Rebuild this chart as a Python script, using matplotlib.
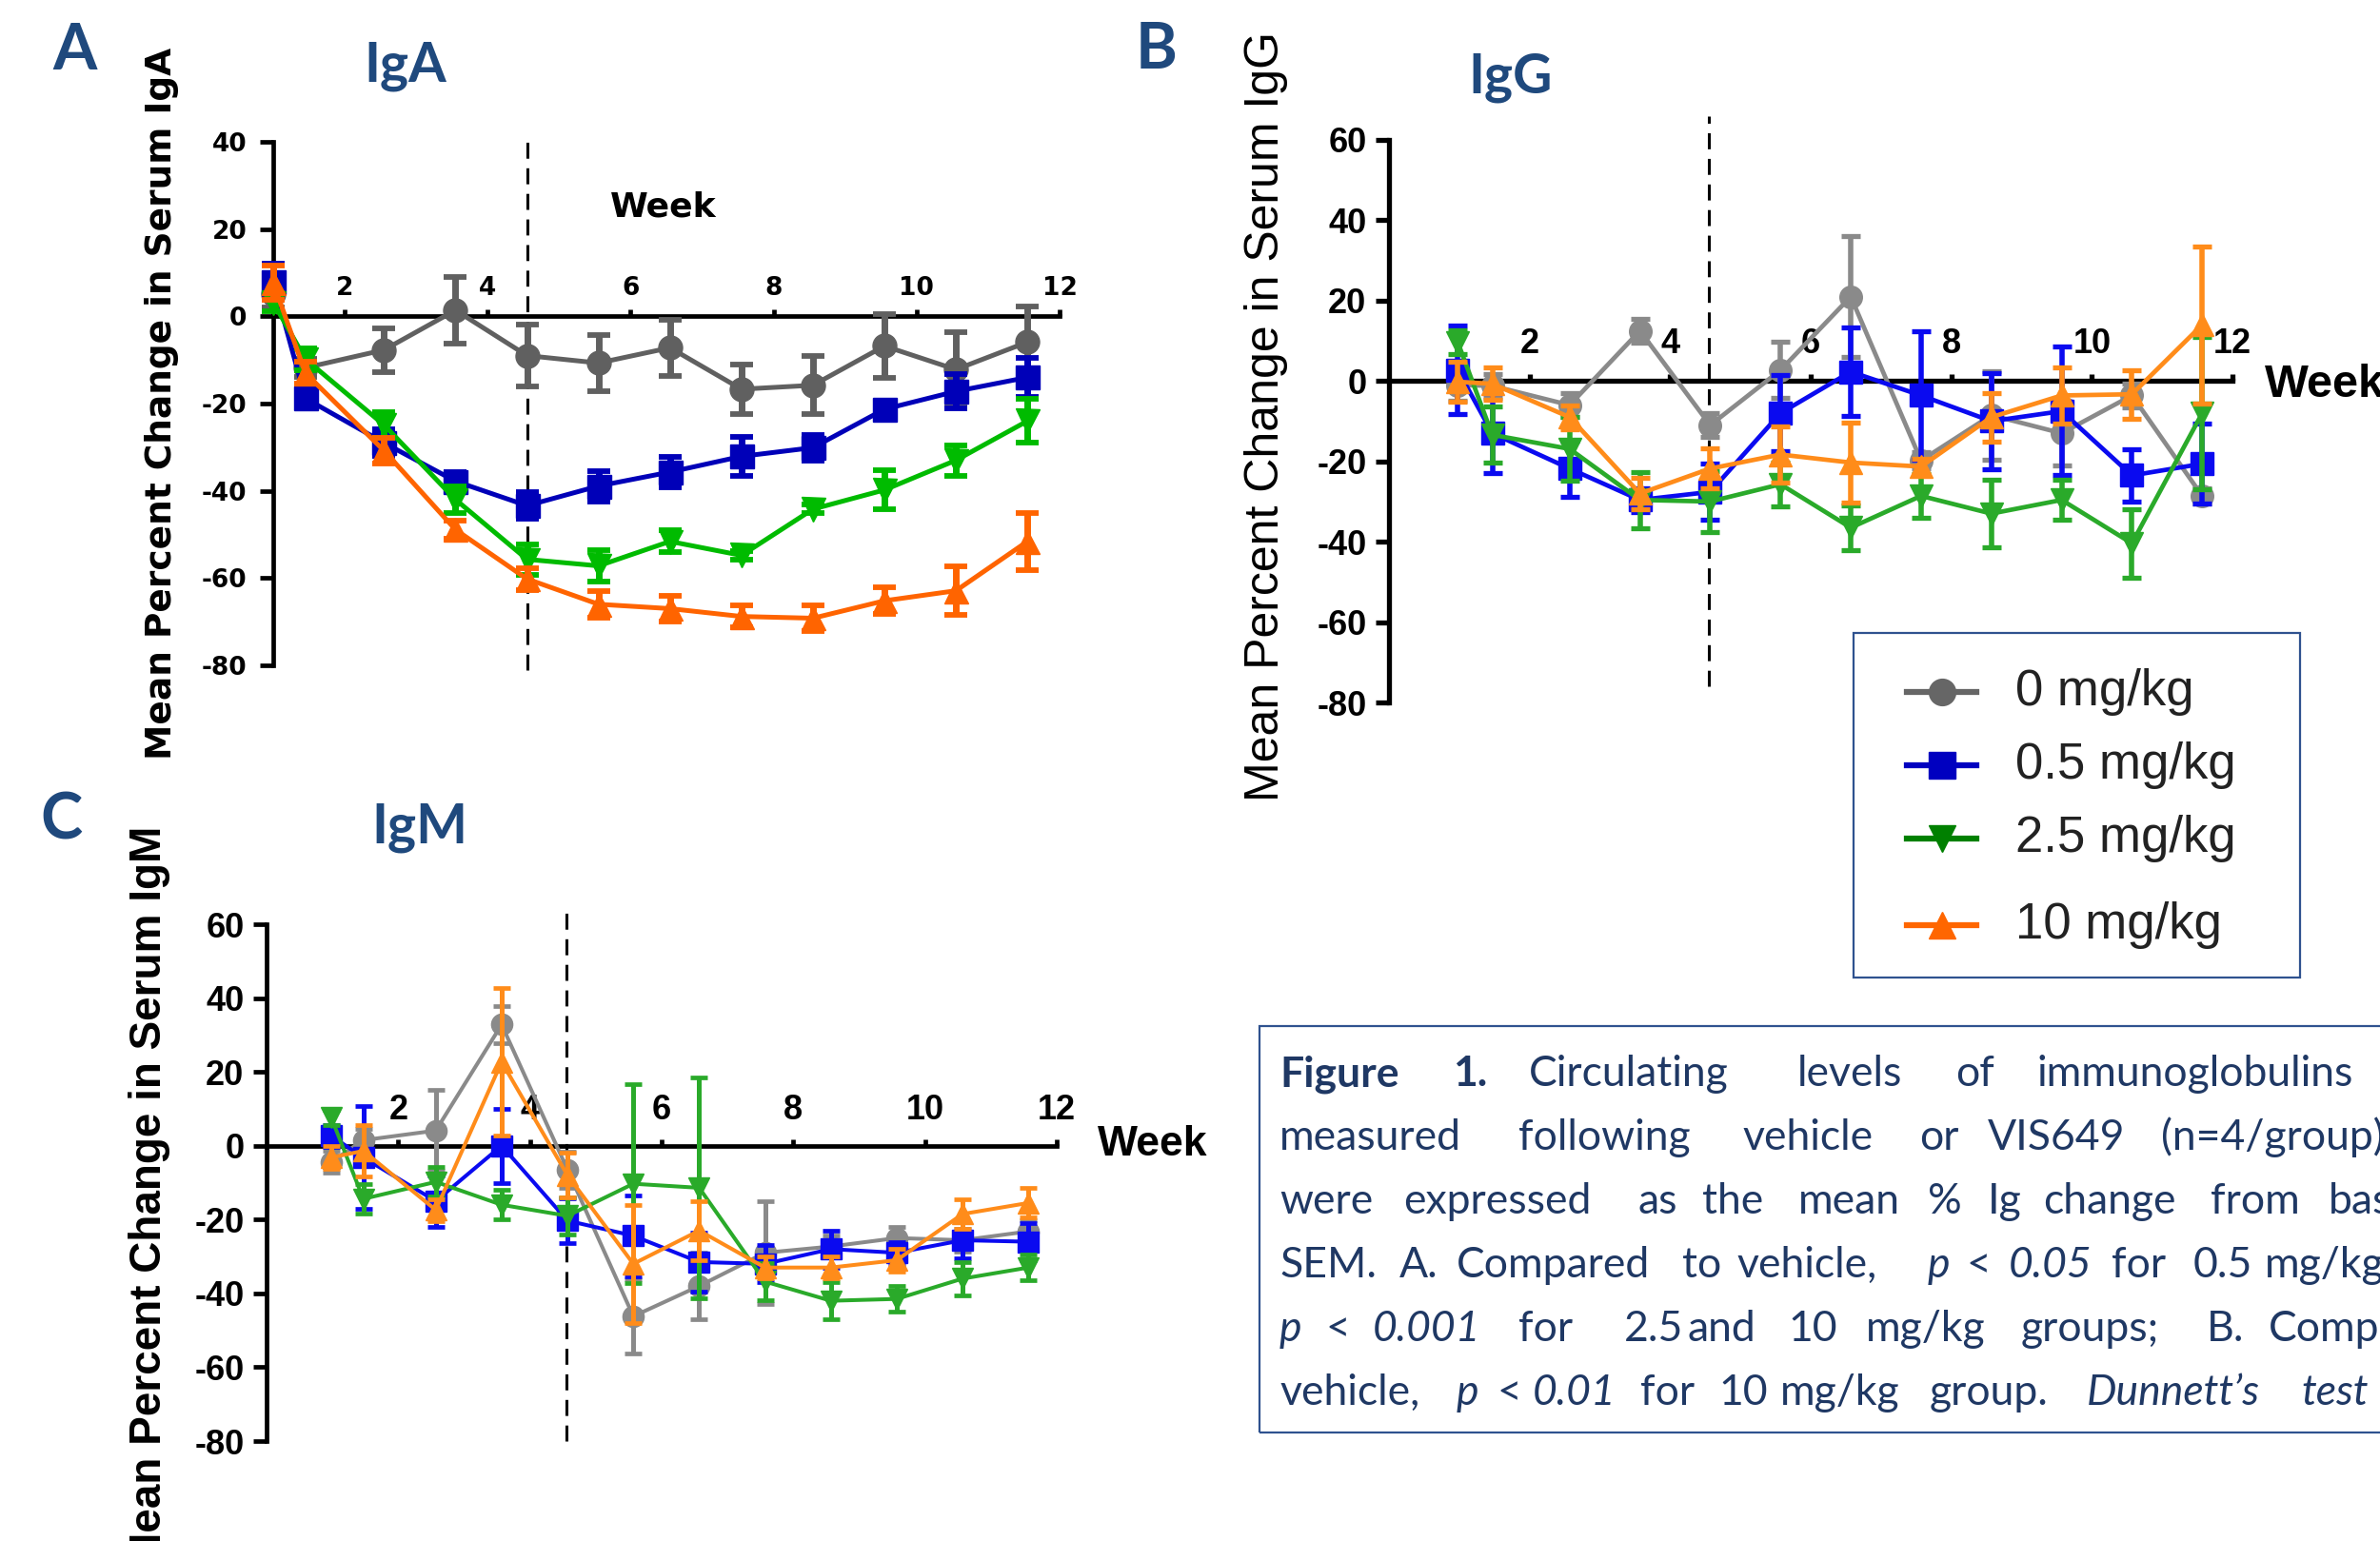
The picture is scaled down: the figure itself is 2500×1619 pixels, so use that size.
import matplotlib
matplotlib.use("Agg")
import matplotlib.pyplot as plt
from matplotlib.lines import Line2D
from matplotlib.patches import Rectangle

plt.rcParams["axes.unicode_minus"] = False

W, H = 2500, 1619

# sampling times (weeks); dosing stopped at the dashed line
weeks_a = [1.0, 1.45, 2.55, 3.55, 4.55, 5.55, 6.55, 7.55, 8.55, 9.55, 10.55, 11.55]
weeks_bc = [0.98, 1.47, 2.57, 3.57, 4.57, 5.57, 6.57, 7.57, 8.57, 9.57, 10.57, 11.57]
dose_end = 4.55

groups = ["0 mg/kg", "0.5 mg/kg", "2.5 mg/kg", "10 mg/kg"]
markers = ["o", "s", "v", "^"]

# A - IgA
iga_0 = [5, -11.8, -7.7, 1.4, -9, -10.7, -7.2, -16.7, -15.8, -6.8, -12.2, -5.9]
iga_0_err = [3, 2, 5, 7.7, 7, 6.4, 6.4, 5.6, 6.7, 7.4, 8.6, 8.2]
iga_05 = [8, -18.8, -29, -37.8, -43.4, -38.9, -35.7, -32.1, -30.1, -21.3, -17.2, -14]
iga_05_err = [4, 2, 3, 2, 3, 3.5, 3.5, 4.5, 3, 1.5, 4, 4.5]
iga_25 = [3.2, -9.8, -24.9, -42, -55.7, -57.2, -51.6, -54.8, -44.2, -39.8, -33, -24]
iga_25_err = [2, 2.5, 3, 3, 3.5, 3.5, 2.5, 1, 1, 4.5, 3.5, 5]
iga_10 = [7.7, -13, -30.8, -48.9, -60.2, -66, -67, -68.8, -69.2, -65.2, -62.9, -51.6]
iga_10_err = [4, 2.5, 3, 2, 2.5, 3, 3, 2.5, 3, 3, 5.5, 6.5]

# B - IgG
igg_0 = [-1, -1.2, -6, 12.5, -11, 2.7, 21, -19.8, -8.5, -13, -3.6, -28.6]
igg_0_err = [4, 3, 3, 3, 3, 7, 15, 2, 11, 8, 3, 2]
igg_05 = [2.7, -13, -21.8, -29.6, -27.6, -8, 2.3, -3.6, -10, -7.5, -23.5, -20.6]
igg_05_err = [11, 10, 7, 3, 7, 9.5, 11, 16, 12, 16, 6.5, 10]
igg_25 = [9.6, -13.4, -16.9, -29.6, -30, -25.7, -36.5, -28.6, -33, -29.6, -40.4, -8]
igg_25_err = [3, 7, 8, 7, 7.5, 5.5, 5.5, 5.5, 8.5, 5, 8.5, 19]
igg_10 = [-0.2, -0.7, -9, -28, -21.8, -18.3, -20.3, -21.3, -9, -3.6, -3.3, 14]
igg_10_err = [5, 4, 3, 4, 5, 7, 10, 2, 6, 7, 6, 19.5]

# C - IgM
igm_0 = [-4.4, 1.5, 4.1, 32.8, -6.5, -46.2, -38, -29, -27.3, -25, -25.6, -23.2]
igm_0_err = [3, 3, 11, 5, 5, 10, 9, 14, 3, 3, 3, 3]
igm_05 = [2.7, -3.2, -15, 0, -20.3, -24.4, -31.5, -32, -28, -29, -25.6, -26]
igm_05_err = [3, 14, 7, 10, 6, 11, 8, 5, 5, 3, 5, 5]
igm_25 = [7.7, -14.4, -9.8, -16, -19, -10.3, -11.4, -36.8, -42, -41.5, -36, -33]
igm_25_err = [2, 4, 4, 4, 5, 27, 30, 5, 5, 3.5, 4.5, 3.5]
igm_10 = [-3.2, -1.4, -17.4, 22.7, -8, -32, -23, -33, -33, -31, -18.5, -15.5]
igm_10_err = [3, 7, 3, 20, 6, 16, 8, 3, 3, 3, 4, 4]

colors_a = ["#606060", "#0000b8", "#00bb00", "#ff6400"]
colors_bc = ["#8a8a8a", "#0a0af0", "#2aaa2a", "#ff8c1a"]
colors_leg = ["#666666", "#0000c0", "#008000", "#ff6600"]
NAVY = "#1f497d"
DRAW_ORDER = [0, 1, 3, 2]


def fx(px):
    return px / W


def fy(py):
    return 1 - py / H


def add_axes(left, top, right, bottom):
    return fig.add_axes([fx(left), fy(bottom), fx(right) - fx(left), fy(top) - fy(bottom)])


def draw_panel(ax, weeks, series, colors, ms, lw, elw, cap, capw):
    for i in DRAW_ORDER:
        mean, err = series[i]
        ax.errorbar(weeks, mean, yerr=err, fmt="-" + markers[i], color=colors[i],
                    ms=ms, lw=lw, elinewidth=elw, capsize=cap, capthick=capw,
                    clip_on=False, zorder=3 + i)


def style_axes(ax, xlim, ylim, yticks, family, fs, spine_w, xpad, ypad, dash_lim):
    ax.set_xlim(*xlim)
    ax.set_ylim(*ylim)
    ax.patch.set_visible(False)
    ax.spines["right"].set_visible(False)
    ax.spines["bottom"].set_visible(False)
    ax.spines["top"].set_position(("data", 0))
    ax.spines["top"].set_linewidth(spine_w)
    ax.spines["left"].set_linewidth(spine_w)
    ax.xaxis.tick_top()
    ax.set_xticks([2, 4, 6, 8, 10, 12])
    ax.set_yticks(yticks)
    ax.tick_params(axis="x", direction="out", length=5, width=spine_w, pad=xpad)
    ax.tick_params(axis="y", direction="out", length=10, width=spine_w, pad=ypad)
    for lab in ax.get_xticklabels() + ax.get_yticklabels():
        lab.set_fontfamily(family)
        lab.set_fontweight("bold")
        lab.set_fontsize(fs)
    ax.plot([dose_end, dose_end], dash_lim, color="black", lw=2.2,
            ls=(0, (5.5, 3.3)), clip_on=False, zorder=2)


fig = plt.figure(figsize=(W / 100, H / 100), dpi=100)

# ---- panel A
axA = add_axes(287, 149, 1113, 699)
draw_panel(axA, weeks_a,
           [(iga_0, iga_0_err), (iga_05, iga_05_err), (iga_25, iga_25_err), (iga_10, iga_10_err)],
           colors_a, ms=18, lw=3.6, elw=5, cap=8.5, capw=4.2)
style_axes(axA, (1, 12), (-80, 40), range(-80, 41, 20), "DejaVu Sans", 19, 3.4, 7, 10, (-81, 42))
fig.text(fx(641), fy(227), "Week", family="DejaVu Sans", weight="bold", fontsize=26, va="baseline")
fig.text(fx(170), fy(50), "Mean Percent Change in Serum IgA", family="DejaVu Sans",
         weight="bold", fontsize=27, rotation=90, ha="center", va="top")

# ---- panel B
axB = add_axes(1459, 147, 2345, 738)
draw_panel(axB, weeks_bc,
           [(igg_0, igg_0_err), (igg_05, igg_05_err), (igg_25, igg_25_err), (igg_10, igg_10_err)],
           colors_bc, ms=17, lw=3.4, elw=4, cap=7, capw=3.8)
style_axes(axB, (0, 12), (-80, 60), range(-80, 61, 20), "Liberation Sans", 26, 3.8, 10, 7, (-76, 66))
fig.text(fx(2379), fy(417), "Week", family="Liberation Sans", weight="bold", fontsize=35, va="baseline")
fig.text(fx(1330), fy(33), "Mean Percent Change in Serum IgG", family="Liberation Sans",
         fontsize=36, rotation=90, ha="center", va="top")

# ---- panel C
axC = add_axes(280, 971, 1110, 1514)
draw_panel(axC, weeks_bc,
           [(igm_0, igm_0_err), (igm_05, igm_05_err), (igm_25, igm_25_err), (igm_10, igm_10_err)],
           colors_bc, ms=16, lw=2.9, elw=3.6, cap=6.5, capw=3.4)
style_axes(axC, (0, 12), (-80, 60), range(-80, 61, 20), "Liberation Sans", 26, 3.4, 9, 7, (-80, 64))
fig.text(fx(1153), fy(1214), "Week", family="Liberation Sans", weight="bold", fontsize=32, va="baseline")
fig.text(fx(157), fy(868), "Mean Percent Change in Serum IgM", family="Liberation Sans",
         weight="bold", fontsize=33, rotation=90, ha="center", va="top")

# ---- panel letters and titles
for letter, x, y in [("A", 55, 73), ("B", 1193, 72), ("C", 42, 882)]:
    fig.text(fx(x), fy(y), letter, family="Lato", weight="bold", fontsize=48,
             color=NAVY, va="baseline")
for title, x, y in [("IgA", 382, 85), ("IgG", 1542, 97), ("IgM", 390, 885)]:
    fig.text(fx(x), fy(y), title, family="Lato", weight="bold", fontsize=41,
             color=NAVY, va="baseline")

# ---- legend
fig.add_artist(Rectangle((fx(1947), fy(1027)), fx(2416) - fx(1947), fy(665) - fy(1027),
                         transform=fig.transFigure, fill=False, edgecolor="#2f528f", lw=1.6))
for label, mk, col, y in zip(groups, markers, colors_leg, [727, 804, 881, 972]):
    fig.add_artist(Line2D([fx(2003), fx(2076)], [fy(y), fy(y)], transform=fig.transFigure,
                          color=col, lw=4.5))
    fig.add_artist(Line2D([fx(2040)], [fy(y)], transform=fig.transFigure, color=col,
                          marker=mk, ms=20, ls="none"))
    fig.text(fx(2117), fy(y), label, family="Liberation Sans", fontsize=38,
             color="#222222", va="center")

# ---- caption (justified text, cut at the right edge as in the source figure)
fig.add_artist(Rectangle((fx(1323), fy(1505)), fx(2600) - fx(1323), fy(1078) - fy(1505),
                         transform=fig.transFigure, fill=False, edgecolor="#2f528f", lw=1.6))
caption = [
    (1141, [(1344, "Figure", "b"), (1526, "1.", "b"), (1606, "Circulating", ""), (1888, "levels", ""),
            (2054, "of", ""), (2140, "immunoglobulins", "")]),
    (1208, [(1344, "measured", ""), (1595, "following", ""), (1830, "vehicle", ""), (2016, "or", ""),
            (2088, "VIS649", ""), (2270, "(n=4/group).", "")]),
    (1275, [(1344, "were", ""), (1474, "expressed", ""), (1721, "as", ""), (1788, "the", ""),
            (1889, "mean", ""), (2025, "%", ""), (2088, "Ig", ""), (2146, "change", ""),
            (2322, "from", ""), (2446, "baseline", "")]),
    (1342, [(1344, "SEM.", ""), (1470, "A.", ""), (1530, "Compared", ""), (1767, "to", ""),
            (1824, "vehicle,", ""), (2025, "p", "i"), (2065, "<", ""), (2110, "0.05", "i"),
            (2218, "for", ""), (2304, "0.5", ""), (2379, "mg/kg", "")]),
    (1409, [(1344, "p", "i"), (1392, "<", ""), (1442, "0.001", "i"), (1595, "for", ""),
            (1706, "2.5", ""), (1772, "and", ""), (1878, "10", ""), (1960, "mg/kg", ""),
            (2123, "groups;", ""), (2318, "B.", ""), (2383, "Compared", "")]),
    (1476, [(1344, "vehicle,", ""), (1530, "p", "i"), (1572, "<", ""), (1610, "0.01", "i"),
            (1723, "for", ""), (1805, "10", ""), (1870, "mg/kg", ""), (2027, "group.", ""),
            (2192, "Dunnett\u2019s", "i"), (2417, "test", "i")]),
]
for base, words in caption:
    for x, word, st in words:
        fig.text(fx(x), fy(base), word, family="Lato", fontsize=32, color="#1f3864",
                 va="baseline", weight="bold" if st == "b" else "normal",
                 style="italic" if st == "i" else "normal")

fig.savefig("out.png", dpi=100, facecolor="white")
